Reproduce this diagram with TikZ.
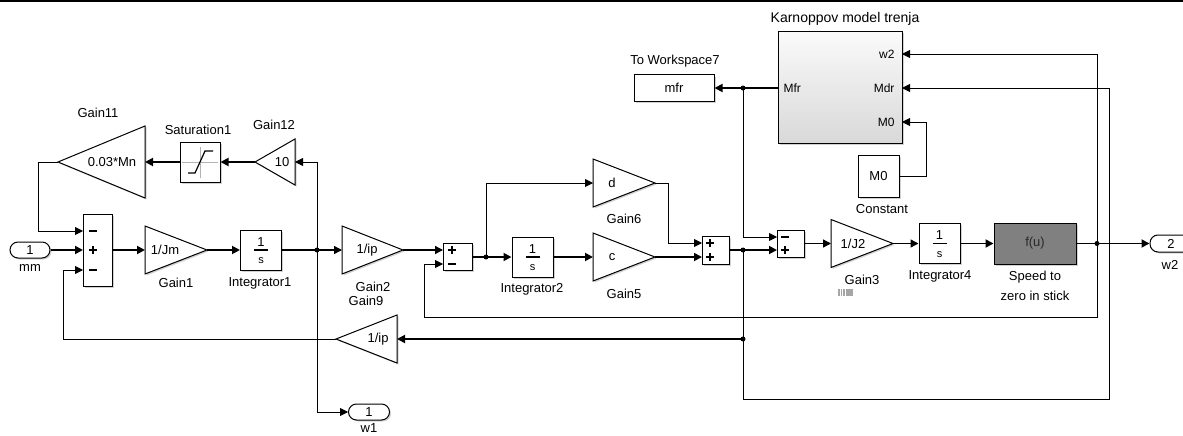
\documentclass[tikz,border=0pt]{standalone}
\usepackage{fontspec}
\setmainfont{Liberation Sans}
\usetikzlibrary{arrows.meta,shadows,calc}
\newcommand{\gainblk}[5]{% name, xbase, xtip, yc, halfh
  \draw[blk] (#2,#4-#5) -- (#3,#4) -- (#2,#4+#5) -- cycle;
  \coordinate (#1-in) at (#2,#4);
  \coordinate (#1-out) at (#3,#4);
}
\newcommand{\integblk}[3]{% name, cx, cy
  \node[blk, minimum width=41pt, minimum height=40pt] (#1) at (#2,#3) {};
  \node (#1-n) at (#2,#3-8) {1};
  \draw[line width=1.8pt] (#2-7,#3) -- (#2+7,#3);
  \node[font=\fontsize{11}{13}\selectfont] (#1-d) at (#2,#3+11) {s};
}
\newcommand{\splus}[2]{\draw[line width=1.6pt] (#1-4,#2) -- (#1+4,#2) (#1,#2-4) -- (#1,#2+4);}
\newcommand{\sminus}[2]{\draw[line width=1.6pt] (#1-4,#2) -- (#1+4,#2);}
\begin{document}
\begin{tikzpicture}[x=1pt,y=-1pt,
  font=\fontsize{13}{15}\selectfont,
  blk/.style={draw=black, line width=1pt, fill=white, inner sep=0pt,
    drop shadow={shadow xshift=1.5pt, shadow yshift=-1.5pt, opacity=0.35}},
  wire/.style={draw, line width=0.9pt, -{Triangle[length=8pt,width=8pt]}},
  wirem/.style={wire, line width=1.3pt},
  wirek/.style={wire, line width=1.8pt},
  plain/.style={draw, line width=0.9pt},
  jdot/.style={circle, fill=black, inner sep=0pt, minimum size=5pt}]
\useasboundingbox (0,0) rectangle (1183,436);
\fill[white] (0,0) rectangle (1183,436);
\draw[line width=2pt] (0,1) -- (1183,1);

% ---- Inport / Outports
\node[blk, rounded corners=8pt, minimum width=40pt, minimum height=16pt] (mm) at (30,250) {1};
\node (mm-l) at (30,268) {mm};
\node[blk, rounded corners=8pt, minimum width=41pt, minimum height=16pt] (w1) at (369,412) {1};
\node (w1-l) at (369,428) {w1};
\node[blk, rounded corners=8pt, minimum width=42pt, minimum height=17pt] (w2) at (1171,243.5) {2};
\node (w2-l) at (1170,265) {w2};

% ---- Sum1
\node[blk, minimum width=29pt, minimum height=72pt] (s1) at (97.5,250) {};
\coordinate (s1-in1) at (83,231); \coordinate (s1-in2) at (83,250); \coordinate (s1-in3) at (83,270);
\sminus{93}{231} \splus{93}{250} \sminus{93}{270}

% ---- Gains
\gainblk{g11}{145}{58}{162}{36}
\node (g11-t) at (112,162) {0.03*Mn};
\node (g11-l) at (98,113) {Gain11};
\gainblk{g12}{295}{255}{162}{23}
\node (g12-t) at (282,162) {10};
\node (g12-l) at (274,125) {Gain12};
\gainblk{g1}{145}{207}{250}{24}
\node (g1-t) at (165,250) {1/Jm};
\node (g1-l) at (176,283) {Gain1};
\gainblk{g2}{342}{403}{250}{24}
\node (g2-t) at (367,250) {1/ip};
\node (g2-l) at (373,287) {Gain2};
\node (g9-l) at (366,301) {Gain9};
\gainblk{g9}{397}{336}{339}{24}
\node (g9-t) at (378,339) {1/ip};
\gainblk{g6}{593}{655}{183}{24}
\node (g6-t) at (612,183) {d};
\node (g6-l) at (624,219) {Gain6};
\gainblk{g5}{593}{655}{257}{24}
\node (g5-t) at (612,257) {c};
\node (g5-l) at (624,294) {Gain5};
\gainblk{g3}{831}{893}{243.5}{24}
\node (g3-t) at (853,243.5) {1/J2};
\node (g3-l) at (862,280) {Gain3};
\fill[gray!70] (838,289) rectangle (853,296);
\foreach \xx in {840,842.5,845} \draw[white, line width=0.6pt] (\xx,289) -- (\xx,296);

% ---- Saturation
\node[blk, minimum width=40pt, minimum height=40pt] (sat) at (200,162) {};
\draw[gray!60, line width=0.8pt] (182,162) -- (218,162) (200,147) -- (200,178);
\draw[line width=1.2pt] (188,173) -- (195,173) -- (205,151) -- (213,151);
\node (sat-l) at (198,130) {Saturation1};

% ---- Integrators
\integblk{i1}{261}{250}
\node (i1-l) at (260,283) {Integrator1};
\integblk{i2}{532.5}{257}
\node (i2-l) at (532,289) {Integrator2};
\integblk{i4}{939.5}{243.5}
\node (i4-l) at (940,276) {Integrator4};

% ---- Sum2, Sum3, Sum4
\node[blk, minimum width=29pt, minimum height=27pt] (s2) at (457.5,257) {};
\coordinate (s2-in1) at (443,250); \coordinate (s2-in2) at (443,264);
\splus{452}{250} \sminus{452}{264}
\node[blk, minimum width=27pt, minimum height=28pt] (s3) at (715.5,250) {};
\coordinate (s3-in1) at (702,243); \coordinate (s3-in2) at (702,257);
\splus{710}{243} \splus{710}{257}
\node[blk, minimum width=27pt, minimum height=27pt] (s4) at (790.5,243.5) {};
\coordinate (s4-in1) at (777,237); \coordinate (s4-in2) at (777,250);
\sminus{785}{237} \splus{785}{250}

% ---- f(u)
\node[blk, fill={rgb,255:red,128;green,128;blue,128}, minimum width=82pt, minimum height=41pt, text={rgb,255:red,40;green,40;blue,40}] (fu) at (1035,243.5) {f(u)};
\node (fu-l1) at (1035,277) {Speed to};
\node (fu-l2) at (1035,296) {zero in stick};

% ---- Karnopp subsystem
\node[draw=black, line width=1pt, top color=gray!4, bottom color=gray!30, inner sep=0pt,
  minimum width=124pt, minimum height=111pt,
  drop shadow={shadow xshift=1.5pt, shadow yshift=-1.5pt, opacity=0.35}] (kar) at (840,87.5) {};
\node[font=\fontsize{14}{16}\selectfont] (kar-l) at (845,19) {Karnoppov model trenja};
\node[anchor=east, font=\fontsize{12}{14}\selectfont] (kar-pw2) at (898,54) {w2};
\node[anchor=east, font=\fontsize{12}{14}\selectfont] (kar-pmdr) at (898,88) {Mdr};
\node[anchor=east, font=\fontsize{12}{14}\selectfont] (kar-pm0) at (898,122) {M0};
\node[anchor=west, font=\fontsize{12}{14}\selectfont] (kar-pmfr) at (780,88) {Mfr};
\coordinate (kar-w2) at (902,54); \coordinate (kar-mdr) at (902,88);
\coordinate (kar-m0) at (902,122); \coordinate (kar-mfr) at (778,88);

% ---- To Workspace, Constant
\node[blk, minimum width=80pt, minimum height=26pt] (tw) at (674,88) {mfr};
\node (tw-l) at (675,61) {To Workspace7};
\node[blk, minimum width=41pt, minimum height=42pt] (cst) at (878.5,176) {M0};
\node (cst-l) at (882,209) {Constant};

% ---- junction dots
\node[jdot] (j1) at (317,250) {};
\node[jdot] (j2) at (486,257) {};
\node[jdot] (j3) at (743,250) {};
\node[jdot] (j4) at (743,339) {};
\node[jdot] (j5) at (743,88) {};
\node[jdot] (j6) at (1097,243.5) {};

% ---- connectors
\draw[wirek] (mm.east) -- (s1-in2);
\draw[wirek] (s1.east) -- (g1-in);
\draw[wirek] (g1-out) -- (i1.west);
\draw[line width=1.8pt] (i1.east) -- (j1.center);
\draw[wirem] (j1.center) -- (g2-in);
\draw[wire] (j1.center) |- (g12-in);
\draw[wire] (j1.center) |- (w1.west);
\draw[wirek] (g12-out) -- (sat.east);
\draw[wirek] (sat.west) -- (g11-in);
\draw[wire] (g11-out) -- (38,162) |- (s1-in1);
\draw[wire] (g9-out) -| (63,270) -- (s1-in3);
\draw[wirem] (g2-out) -- (s2-in1);
\draw[line width=1.8pt] (s2.east) -- (j2.center);
\draw[wirek] (j2.center) -- (i2.west);
\draw[wire] (j2.center) |- (g6-in);
\draw[wirek] (i2.east) -- (g5-in);
\draw[wire] (g6-out) -- (668,183) |- (s3-in1);
\draw[wirek] (g5-out) -- (s3-in2);
\draw[line width=1.8pt] (s3.east) -- (j3.center);
\draw[wirek] (j3.center) -- (s4-in2);
\draw[plain] (j3.center) -- (j4.center);
\draw[wirek] (j4.center) -- (g9-in);
\draw[wire] (j4.center) -- (743,399) -- (1109,399) |- (kar-mdr);
\draw[line width=1.8pt] (kar-mfr) -- (j5.center);
\draw[wirek] (j5.center) -- (tw.east);
\draw[wire] (j5.center) |- (s4-in1);
\draw[wirem] (s4.east) -- (g3-in);
\draw[wirem] (g3-out) -- (i4.west);
\draw[wirek] (i4.east) -- (fu.west);
\draw[line width=1.8pt] (fu.east) -- (j6.center);
\draw[wirek] (j6.center) -- (w2.west);
\draw[wire] (j6.center) |- (kar-w2);
\draw[wire] (j6.center) -- (1097,317) -- (424,317) |- (s2-in2);
\draw[wire] (cst.east) -- (926,176) |- (kar-m0);
\end{tikzpicture}
\end{document}
